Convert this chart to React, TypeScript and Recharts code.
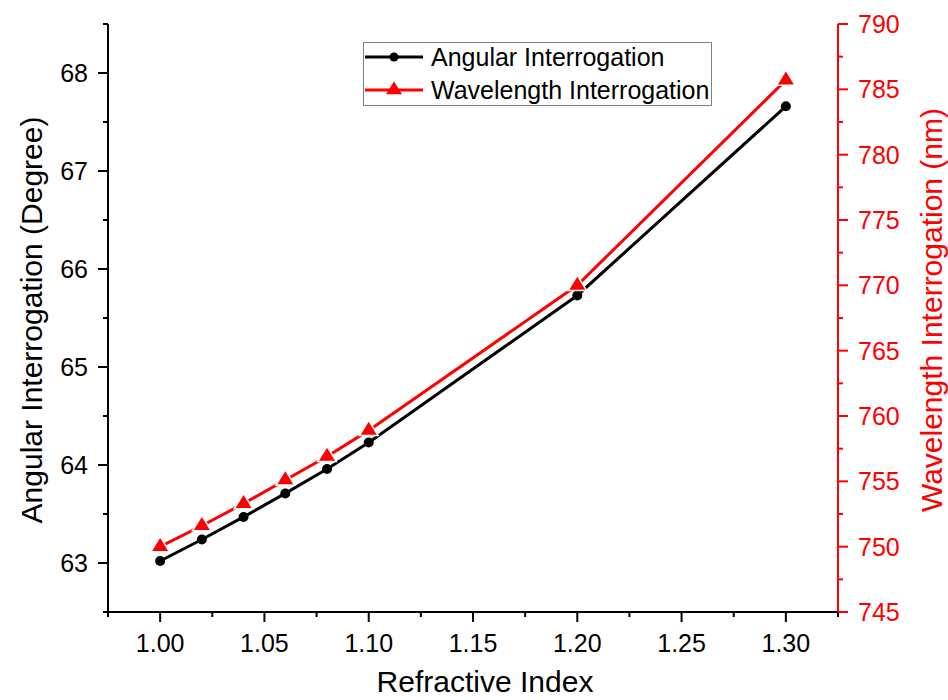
// Refractive index sweep: angular vs. wavelength interrogation on twin y-axes

import { LineChart, Line, XAxis, YAxis, Legend } from 'recharts';

const refractiveIndex = [1.0, 1.02, 1.04, 1.06, 1.08, 1.1, 1.2, 1.3];
const angularDeg = [63.02, 63.24, 63.47, 63.71, 63.96, 64.23, 65.73, 67.66];
const wavelengthNm = [750.0, 751.6, 753.3, 755.1, 756.9, 758.9, 770.0, 785.7];

// every tick position; the majors get labels
const xTicks = [0.975, 1.0, 1.025, 1.05, 1.075, 1.1, 1.125, 1.15, 1.175, 1.2, 1.225, 1.25, 1.275, 1.3, 1.325];
const leftTicks = [62.5, 63, 63.5, 64, 64.5, 65, 65.5, 66, 66.5, 67, 67.5, 68, 68.5];
const rightTicks = [745, 747.5, 750, 752.5, 755, 757.5, 760, 762.5, 765, 767.5, 770, 772.5, 775, 777.5, 780, 782.5, 785, 787.5, 790];

const legendItems = [
  { name: 'Angular Interrogation', color: '#000000', shape: 'circle' },
  { name: 'Wavelength Interrogation', color: '#ff0000', shape: 'triangle' },
];

const FONT = '"Liberation Sans", Arial, Helvetica, sans-serif';
const RED = '#ff0000';
const MAJOR = 10;
const MINOR = 5;
const TICK_FONT = 25;
const TITLE_FONT = 30;

const rows = refractiveIndex.map((ri, i) => ({
  ri,
  angular: angularDeg[i],
  wavelength: wavelengthNm[i],
}));

const isMajor = (v: number, step: number) => Math.abs(v / step - Math.round(v / step)) < 1e-6;

function BottomTick({ x, y, payload }: any) {
  const major = isMajor(payload.value, 0.05);
  return (
    <g>
      <line x1={x} y1={y} x2={x} y2={y + (major ? MAJOR : MINOR)} stroke="#000" strokeWidth={2} />
      {major && (
        <text x={x} y={y + 40} textAnchor="middle" fontSize={TICK_FONT} fontFamily={FONT} fill="#000">
          {payload.value.toFixed(2)}
        </text>
      )}
    </g>
  );
}

function TopTick({ x, y, payload }: any) {
  const major = isMajor(payload.value, 0.05);
  // ticks point into the plot
  return <line x1={x} y1={y} x2={x} y2={y + (major ? MAJOR : MINOR)} stroke="#000" strokeWidth={2} />;
}

function LeftTick({ x, y, payload }: any) {
  const major = isMajor(payload.value, 1);
  return (
    <g>
      <line x1={x} y1={y} x2={x - (major ? MAJOR : MINOR)} y2={y} stroke="#000" strokeWidth={2} />
      {major && (
        <text x={x - 20} y={y} dy="0.36em" textAnchor="end" fontSize={TICK_FONT} fontFamily={FONT} fill="#000">
          {payload.value}
        </text>
      )}
    </g>
  );
}

function RightTick({ x, y, payload }: any) {
  const major = isMajor(payload.value, 5);
  return (
    <g>
      <line x1={x} y1={y} x2={x + (major ? MAJOR : MINOR)} y2={y} stroke={RED} strokeWidth={2} />
      {major && (
        <text x={x + 20} y={y} dy="0.36em" textAnchor="start" fontSize={TICK_FONT} fontFamily={FONT} fill={RED}>
          {payload.value}
        </text>
      )}
    </g>
  );
}

function CircleDot({ cx, cy }: any) {
  if (cx == null || cy == null) return null;
  return <circle cx={cx} cy={cy} r={5} fill="#000" stroke="none" />;
}

function TriangleDot({ cx, cy }: any) {
  if (cx == null || cy == null) return null;
  const w = 16;
  const h = 13;
  // white halo leaves the small gap between line and marker
  return (
    <polygon
      points={`${cx},${cy - (h * 2) / 3} ${cx + w / 2},${cy + h / 3} ${cx - w / 2},${cy + h / 3}`}
      fill={RED}
      stroke="#fff"
      strokeWidth={3}
      paintOrder="stroke"
    />
  );
}

function LegendBox() {
  return (
    <svg width={349} height={64} style={{ display: 'block' }}>
      <rect x={0.5} y={0.5} width={348} height={63} fill="#fff" stroke="#808080" strokeWidth={1} />
      {legendItems.map((item, i) => {
        const cy = 15 + i * 33;
        return (
          <g key={item.name}>
            <line x1={2} y1={cy} x2={60} y2={cy} stroke={item.color} strokeWidth={3} />
            {item.shape === 'circle' ? (
              <circle cx={31} cy={cy} r={4.5} fill={item.color} />
            ) : (
              <polygon points={`31,${cy - 8.7} 39,${cy + 4.3} 23,${cy + 4.3}`} fill={item.color} />
            )}
            <text x={68} y={cy} dy="0.36em" fontSize={25} fontFamily={FONT} fill="#000">
              {item.name}
            </text>
          </g>
        );
      })}
    </svg>
  );
}

const leftTitle = (props: any) => {
  const vb = props.viewBox || { x: 0, y: 24, width: 108, height: 588 };
  const cx = vb.x + 31;
  const cy = vb.y + vb.height / 2 + 2;
  return (
    <text x={cx} y={cy} transform={`rotate(-90, ${cx}, ${cy})`} textAnchor="middle" dy="0.36em" fontSize={TITLE_FONT} fontFamily={FONT} fill="#000">
      Angular Interrogation (Degree)
    </text>
  );
};

const rightTitle = (props: any) => {
  const vb = props.viewBox || { x: 838, y: 24, width: 110, height: 588 };
  const cx = vb.x + 93;
  const cy = vb.y + vb.height / 2 - 8;
  return (
    <text x={cx} y={cy} transform={`rotate(-90, ${cx}, ${cy})`} textAnchor="middle" dy="0.36em" fontSize={TITLE_FONT} fontFamily={FONT} fill={RED}>
      Wavelength Interrogation (nm)
    </text>
  );
};

const bottomTitle = (props: any) => {
  const vb = props.viewBox || { x: 108, y: 612, width: 730, height: 88 };
  return (
    <text x={vb.x + vb.width / 2 + 12} y={vb.y + 80} textAnchor="middle" fontSize={TITLE_FONT} fontFamily={FONT} fill="#000">
      Refractive Index
    </text>
  );
};

export default function App() {
  return (
    <div style={{ position: 'absolute', left: 0, top: 0, width: 948, height: 700, background: '#fff' }}>
      <LineChart width={948} height={700} data={rows} margin={{ top: 24, right: 0, bottom: 0, left: 0 }}>
        <XAxis
          xAxisId="bottom"
          dataKey="ri"
          type="number"
          domain={[0.975, 1.325]}
          ticks={xTicks}
          interval={0}
          tickSize={0}
          tickMargin={0}
          tickLine={false}
          tick={<BottomTick />}
          axisLine={{ stroke: '#000', strokeWidth: 2 }}
          height={88}
          allowDataOverflow
          label={{ value: 'Refractive Index', content: bottomTitle }}
        />
        <XAxis
          xAxisId="top"
          orientation="top"
          dataKey="ri"
          type="number"
          domain={[0.975, 1.325]}
          ticks={xTicks}
          interval={0}
          tickSize={0}
          tickMargin={0}
          tickLine={false}
          tick={<TopTick />}
          axisLine={{ stroke: '#000', strokeWidth: 2 }}
          height={0}
          allowDataOverflow
        />
        <YAxis
          yAxisId="left"
          type="number"
          domain={[62.5, 68.5]}
          ticks={leftTicks}
          interval={0}
          tickSize={0}
          tickMargin={0}
          tickLine={false}
          tick={<LeftTick />}
          axisLine={{ stroke: '#000', strokeWidth: 2 }}
          width={108}
          allowDataOverflow
          label={{ value: 'Angular Interrogation (Degree)', content: leftTitle }}
        />
        <YAxis
          yAxisId="right"
          orientation="right"
          type="number"
          domain={[745, 790]}
          ticks={rightTicks}
          interval={0}
          tickSize={0}
          tickMargin={0}
          tickLine={false}
          tick={<RightTick />}
          axisLine={{ stroke: RED, strokeWidth: 2 }}
          width={110}
          allowDataOverflow
          label={{ value: 'Wavelength Interrogation (nm)', content: rightTitle }}
        />
        <Legend
          layout="vertical"
          align="center"
          verticalAlign="middle"
          content={<LegendBox />}
          wrapperStyle={{ left: 363, top: 42, width: 349, height: 64 }}
        />
        <Line
          xAxisId="bottom"
          yAxisId="left"
          dataKey="angular"
          name="Angular Interrogation"
          stroke="#000"
          strokeWidth={3}
          dot={<CircleDot />}
          activeDot={false}
          isAnimationActive={false}
        />
        <Line
          xAxisId="bottom"
          yAxisId="right"
          dataKey="wavelength"
          name="Wavelength Interrogation"
          stroke={RED}
          strokeWidth={3}
          dot={<TriangleDot />}
          activeDot={false}
          isAnimationActive={false}
        />
      </LineChart>
    </div>
  );
}
